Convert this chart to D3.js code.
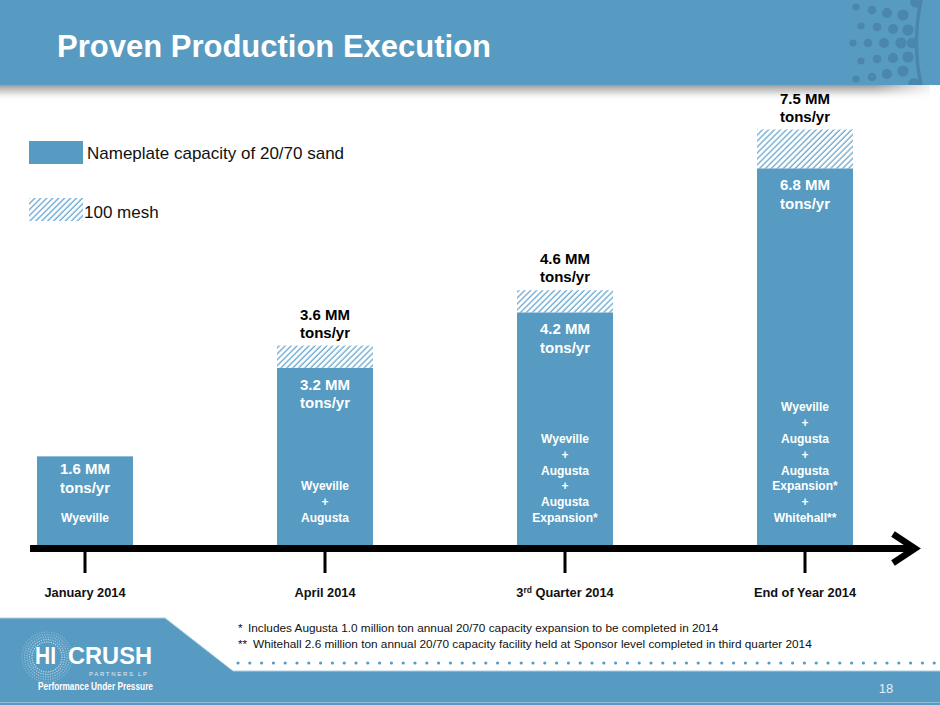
<!DOCTYPE html>
<html>
<head>
<meta charset="utf-8">
<script src="https://cdn.jsdelivr.net/npm/d3@7/dist/d3.min.js"></script>
<style>
  html, body { margin: 0; padding: 0; background: #fff; }
  svg { display: block; font-family: "Liberation Sans", Arial, Helvetica, sans-serif; }
</style>
</head>
<body>
<svg id="chart" width="940" height="705"></svg>
<script>
// ---------- data ----------
const periods = ["January 2014", "April 2014", "3rd Quarter 2014", "End of Year 2014"];
const nameplate = [1.6, 3.2, 4.2, 6.8];          // MM tons/yr, 20/70 sand
const mesh100 = [0, 0.4, 0.4, 0.7];              // MM tons/yr, 100 mesh
const totalCapacity = [1.6, 3.6, 4.6, 7.5];       // MM tons/yr
const facilities = [
  ["Wyeville"],
  ["Wyeville", "+", "Augusta"],
  ["Wyeville", "+", "Augusta", "+", "Augusta", "Expansion*"],
  ["Wyeville", "+", "Augusta", "+", "Augusta", "Expansion*", "+", "Whitehall**"]
];
const legendLabels = ["Nameplate capacity of 20/70 sand", "100 mesh"];
const footnotes = [
  ["*", "Includes Augusta 1.0 million ton annual 20/70 capacity expansion to be completed in 2014"],
  ["**", "Whitehall 2.6 million ton annual 20/70 capacity facility held at Sponsor level completed in third quarter 2014"]
];
const title = "Proven Production Execution";
const pageNumber = "18";

// ---------- styles ----------
const BLUE = "#579bc2";
const DARKDOT = "#4a86ad";
const HATCH = "#6aa8cf";

const svg = d3.select("#chart");
const defs = svg.append("defs");

const pat = defs.append("pattern")
  .attr("id", "hatch").attr("patternUnits", "userSpaceOnUse")
  .attr("width", 4.2).attr("height", 4.2)
  .attr("patternTransform", "rotate(45)");
pat.append("rect").attr("width", 4.2).attr("height", 4.2).attr("fill", "#fff");
pat.append("line").attr("x1", 1).attr("y1", 0).attr("x2", 1).attr("y2", 4.2)
  .attr("stroke", HATCH).attr("stroke-width", 1.3);

const shadow = defs.append("linearGradient").attr("id", "shadow")
  .attr("x1", 0).attr("y1", 0).attr("x2", 0).attr("y2", 1);
shadow.append("stop").attr("offset", "0%").attr("stop-color", "#7d7d7d").attr("stop-opacity", 0.85);
shadow.append("stop").attr("offset", "45%").attr("stop-color", "#b5b5b5").attr("stop-opacity", 0.6);
shadow.append("stop").attr("offset", "100%").attr("stop-color", "#ffffff").attr("stop-opacity", 0);

const shadowH = defs.append("linearGradient").attr("id", "shadowMask")
  .attr("x1", 0).attr("y1", 0).attr("x2", 1).attr("y2", 0);
shadowH.append("stop").attr("offset", "0%").attr("stop-color", "#fff").attr("stop-opacity", 1);
shadowH.append("stop").attr("offset", "93%").attr("stop-color", "#fff").attr("stop-opacity", 1);
shadowH.append("stop").attr("offset", "100%").attr("stop-color", "#fff").attr("stop-opacity", 0);
defs.append("mask").attr("id", "smask").append("rect")
  .attr("x", 0).attr("y", 80).attr("width", 940).attr("height", 30).attr("fill", "url(#shadowMask)");
defs.append("clipPath").attr("id", "hclip").append("rect")
  .attr("x", 0).attr("y", 0).attr("width", 940).attr("height", 85);

// ---------- header ----------
svg.append("rect").attr("x", 0).attr("y", 84).attr("width", 930).attr("height", 17)
  .attr("fill", "url(#shadow)").attr("mask", "url(#smask)");
svg.append("rect").attr("x", 0).attr("y", 0).attr("width", 940).attr("height", 85).attr("fill", BLUE);

// decorative dots in header
const deco = svg.append("g").attr("clip-path", "url(#hclip)");
const rows = [
  [[856, 7, 3.6], [872, 10, 4.3], [887, 13, 5], [903, 15, 5.6], [916, 2, 5.8]],
  [[861, 26, 3.6], [877, 27, 4.3], [893, 29, 5], [908, 30, 5.6]],
  [[853, 43, 3.6], [868, 43, 4.3], [884, 43, 5], [901, 43, 5.6], [912, 43, 5.2]],
  [[861, 61, 3.6], [877, 59, 4.3], [893, 58, 5], [908, 57, 5.6]],
  [[856, 79, 3.6], [872, 77, 4.3], [887, 74, 5], [903, 71, 5.6], [914, 84, 5.8]]
];
rows.flat().forEach(d => deco.append("circle").attr("cx", d[0]).attr("cy", d[1]).attr("r", d[2]).attr("fill", DARKDOT));
deco.append("path").attr("d", "M921,0 Q912,43 921,85").attr("fill", "none")
  .attr("stroke", DARKDOT).attr("stroke-width", 3.5);

svg.append("text").attr("x", 57).attr("y", 57).attr("fill", "#fff")
  .attr("font-size", 31).attr("font-weight", "bold").text(title);

// ---------- scales ----------
const x = d3.scalePoint().domain(periods).range([85, 805]);
const y = d3.scaleLinear().domain([0, 7.5]).range([545, 129.5]);
const barW = 96;

const bars = svg.append("g");
periods.forEach((p, i) => {
  const cx = x(p);
  bars.append("rect").attr("x", cx - barW / 2).attr("width", barW)
    .attr("y", y(nameplate[i])).attr("height", y(0) - y(nameplate[i])).attr("fill", BLUE);
  if (mesh100[i] > 0) {
    bars.append("rect").attr("x", cx - barW / 2).attr("width", barW)
      .attr("y", y(nameplate[i] + mesh100[i]))
      .attr("height", y(nameplate[i]) - y(nameplate[i] + mesh100[i]))
      .attr("fill", "url(#hatch)");
    const t = bars.append("text").attr("text-anchor", "middle").attr("font-weight", "bold")
      .attr("font-size", 15).attr("fill", "#000");
    t.append("tspan").attr("x", cx).attr("y", y(totalCapacity[i]) - 26).text(totalCapacity[i].toFixed(1) + " MM");
    t.append("tspan").attr("x", cx).attr("y", y(totalCapacity[i]) - 8).text("tons/yr");
  }
  const top = y(nameplate[i]);
  const off = i === 0 ? 18 : 22;
  const t2 = bars.append("text").attr("text-anchor", "middle").attr("font-weight", "bold")
    .attr("font-size", 15).attr("fill", "#fff");
  t2.append("tspan").attr("x", cx).attr("y", top + off).text(nameplate[i].toFixed(1) + " MM");
  t2.append("tspan").attr("x", cx).attr("y", top + off + 18.5).text("tons/yr");
  const f = facilities[i];
  const t3 = bars.append("text").attr("text-anchor", "middle").attr("font-weight", "bold")
    .attr("font-size", 12).attr("fill", "#fff");
  f.forEach((s, j) => {
    t3.append("tspan").attr("x", cx).attr("y", 522 - (f.length - 1 - j) * 15.8).text(s);
  });
});

// ---------- axis ----------
const axis = svg.append("g");
axis.append("rect").attr("x", 30).attr("y", 545).attr("width", 880).attr("height", 7).attr("fill", "#000");
axis.append("polyline").attr("points", "893,534 915,548.5 893,563")
  .attr("fill", "none").attr("stroke", "#000").attr("stroke-width", 6.5)
  .attr("stroke-linejoin", "miter").attr("stroke-miterlimit", 10);
periods.forEach(p => {
  axis.append("rect").attr("x", x(p) - 1.5).attr("y", 550).attr("width", 3).attr("height", 23).attr("fill", "#000");
  const t = axis.append("text").attr("x", x(p)).attr("y", 597).attr("text-anchor", "middle")
    .attr("font-size", 12.8).attr("font-weight", "bold").attr("fill", "#111");
  const m = p.match(/^(\d)(rd)(.*)$/);
  if (m) {
    t.append("tspan").text(m[1]);
    t.append("tspan").attr("font-size", 8.5).attr("dy", -4.5).text(m[2]);
    t.append("tspan").attr("dy", 4.5).text(m[3]);
  } else t.text(p);
});

// ---------- legend ----------
const lg = svg.append("g");
lg.append("rect").attr("x", 29).attr("y", 141).attr("width", 54).attr("height", 23).attr("fill", BLUE);
lg.append("text").attr("x", 87).attr("y", 159).attr("font-size", 17).attr("fill", "#111").text(legendLabels[0]);
lg.append("rect").attr("x", 29).attr("y", 198).attr("width", 54).attr("height", 23).attr("fill", "url(#hatch)");
lg.append("text").attr("x", 84).attr("y", 218).attr("font-size", 17).attr("fill", "#111").text(legendLabels[1]);

// ---------- footnotes ----------
footnotes.forEach((fn, i) => {
  const yy = 632 + i * 16;
  svg.append("text").attr("x", 238).attr("y", yy).attr("font-size", 11.8).attr("fill", "#111").text(fn[0]);
  svg.append("text").attr("x", i === 0 ? 248 : 253).attr("y", yy).attr("font-size", 11.8).attr("fill", "#111").text(fn[1]);
});
const dotsG = svg.append("g");
d3.range(238, 936, 11.8).forEach(dx => dotsG.append("circle").attr("cx", dx).attr("cy", 663).attr("r", 1.6).attr("fill", BLUE));

// ---------- footer band ----------
svg.append("path").attr("d", "M0,618 L165,618 L233,671 L940,671 L940,705 L0,705 Z").attr("fill", BLUE);
svg.append("path").attr("d", "M0,618 L165,618 L233,671 L940,671").attr("fill", "none")
  .attr("stroke", "#a9cde2").attr("stroke-width", 1);
svg.append("rect").attr("x", 0).attr("y", 702).attr("width", 940).attr("height", 1).attr("fill", "#8fbdd8");
svg.append("text").attr("x", 886).attr("y", 693).attr("text-anchor", "middle").attr("font-size", 13)
  .attr("fill", "#e6eef4").text(pageNumber);

// logo
const logo = svg.append("g");
const lc = [47, 657];
for (let r = 15; r <= 25; r += 2.5) {
  const n = Math.round(r * 2.6);
  for (let k = 0; k < n; k++) {
    const a = (k / n) * Math.PI * 2 + r;
    logo.append("circle").attr("cx", lc[0] + r * Math.cos(a)).attr("cy", lc[1] + r * Math.sin(a))
      .attr("r", 0.7).attr("fill", "#fff").attr("opacity", 0.25 + (25 - r) / 25);
  }
}
logo.append("text").attr("x", 35).attr("y", 664).attr("font-size", 24).attr("font-weight", "bold")
  .attr("fill", "#fff").attr("textLength", 21).attr("lengthAdjust", "spacingAndGlyphs").text("HI");
logo.append("text").attr("x", 68).attr("y", 664).attr("font-size", 24).attr("font-weight", "bold")
  .attr("fill", "#fff").attr("textLength", 84).attr("lengthAdjust", "spacingAndGlyphs").text("CRUSH");
logo.append("text").attr("x", 89).attr("y", 675.5).attr("font-size", 6)
  .attr("fill", "#e0ecf4").attr("textLength", 58).attr("lengthAdjust", "spacing").text("PARTNERS LP");
logo.append("text").attr("x", 38).attr("y", 690).attr("font-size", 10.5).attr("font-weight", "bold")
  .attr("fill", "#fff").attr("textLength", 115).attr("lengthAdjust", "spacingAndGlyphs").text("Performance Under Pressure");
</script>
</body>
</html>
